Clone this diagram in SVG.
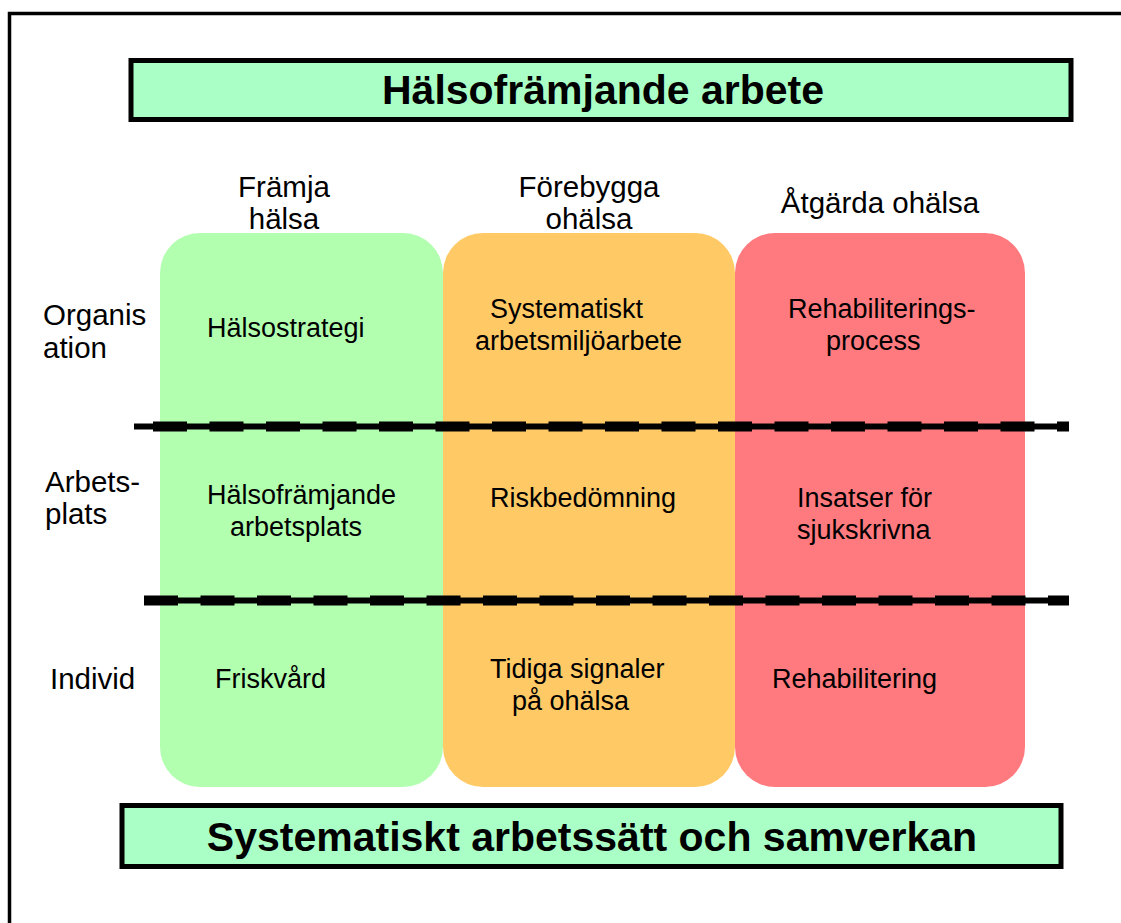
<svg xmlns="http://www.w3.org/2000/svg" width="1121" height="923" viewBox="0 0 1121 923">
<style>
text{font-family:"Liberation Sans",Arial,sans-serif;fill:#000}
.b{font-size:27px}
.h{font-size:29.5px}
.t{font-size:41px;font-weight:bold}
.banner{fill:#aaffc6;stroke:#000;stroke-width:5}
.thin{stroke:#000;stroke-width:6;fill:none}
.dash{stroke:#000;stroke-width:10;fill:none;stroke-dasharray:34 22.5}
</style>
<rect x="9.5" y="13.5" width="1200" height="1000" fill="#fff" stroke="#000" stroke-width="3.5"/>
<g id="title">
<rect class="banner" x="131" y="60.5" width="940" height="59"/>
<text class="t" x="603" y="104" text-anchor="middle">Hälsofrämjande arbete</text>
</g>
<g id="col-headers">
<text class="h" x="284" y="197" text-anchor="middle">Främja</text>
<text class="h" x="284" y="229" text-anchor="middle">hälsa</text>
<text class="h" x="589" y="197" text-anchor="middle">Förebygga</text>
<text class="h" x="589" y="229" text-anchor="middle">ohälsa</text>
<text class="h" x="880" y="213" text-anchor="middle">Åtgärda ohälsa</text>
</g>
<g id="col-green">
<rect x="160" y="233" width="283" height="554" rx="40" fill="#b2ffb0"/>
<text class="b" x="207" y="337">Hälsostrategi</text>
<text class="b" x="207" y="504">Hälsofrämjande</text>
<text class="b" x="230" y="536">arbetsplats</text>
<text class="b" x="215" y="688">Friskvård</text>
</g>
<g id="col-orange">
<rect x="443" y="233" width="292" height="554" rx="40" fill="#ffca66"/>
<text class="b" x="490" y="318">Systematiskt</text>
<text class="b" x="475" y="350">arbetsmiljöarbete</text>
<text class="b" x="490" y="507">Riskbedömning</text>
<text class="b" x="490" y="678">Tidiga signaler</text>
<text class="b" x="512" y="710">på ohälsa</text>
</g>
<g id="col-red">
<rect x="735" y="233" width="290" height="554" rx="40" fill="#ff7a7e"/>
<text class="b" x="788" y="318">Rehabiliterings-</text>
<text class="b" x="826" y="350">process</text>
<text class="b" x="797" y="507">Insatser för</text>
<text class="b" x="797" y="539">sjukskrivna</text>
<text class="b" x="772" y="688">Rehabilitering</text>
</g>
<g id="row-labels">
<text class="h" x="43" y="325">Organis</text>
<text class="h" x="43" y="358">ation</text>
<text class="h" x="45" y="492">Arbets-</text>
<text class="h" x="45" y="524">plats</text>
<text class="h" x="50" y="689">Individ</text>
</g>
<g id="connectors">
<line class="thin" x1="134" y1="426.5" x2="1069" y2="426.5"/>
<line class="dash" x1="153" y1="426.5" x2="1069" y2="426.5"/>
<line class="thin" x1="144" y1="600.5" x2="1069" y2="600.5"/>
<line class="dash" x1="144" y1="600.5" x2="1069" y2="600.5"/>
</g>
<g id="footer">
<rect class="banner" x="122" y="805.5" width="939" height="61"/>
<text class="t" x="592" y="851" text-anchor="middle">Systematiskt arbetssätt och samverkan</text>
</g>
</svg>
